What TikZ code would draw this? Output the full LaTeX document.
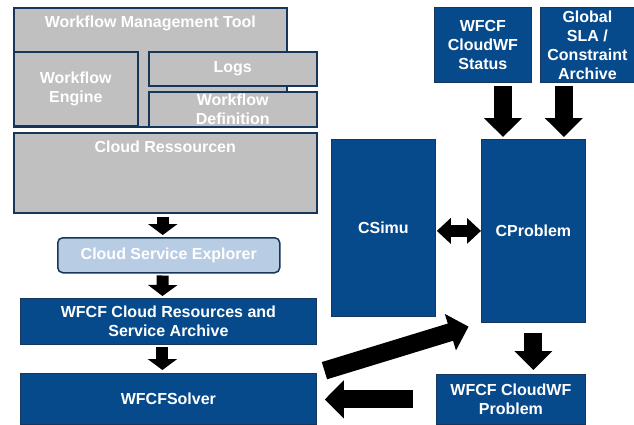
\documentclass[tikz,border=0pt]{standalone}
\usepackage{fontspec}
\setmainfont{Liberation Sans}
\usetikzlibrary{positioning, arrows.meta, calc}
\definecolor{wfblue}{RGB}{6,74,140}
\definecolor{wfnavy}{RGB}{22,54,92}
\definecolor{wfgrey}{RGB}{192,192,192}
\definecolor{wflight}{RGB}{184,204,228}
\tikzset{
    txt/.style = {font=\fontsize{16}{19}\selectfont\bfseries, text=white, align=center}, % white bold labels
    greybox/.style = {rectangle, draw=wfnavy, line width=1.5pt, fill=wfgrey, txt, anchor=north west, inner sep=0pt},
    bluebox/.style = {rectangle, draw=wfnavy, line width=0.8pt, fill=wfblue, txt, anchor=north west, inner sep=0pt},
    lightbox/.style = {bluebox, fill=wflight, line width=1.5pt, rounded corners=5pt},
    toplabel/.style = {txt, anchor=north, yshift=-5pt},
    smallarrow/.style = {draw=black, line width=12pt, -{Triangle[width=29pt,length=11pt]}}, % short arrows on the left
    bigarrow/.style = {draw=black, line width=18pt, -{Triangle[width=37pt,length=19pt]}},
    twoway/.style = {draw=black, line width=12pt, {Triangle[width=25pt,length=14pt]}-{Triangle[width=25pt,length=14pt]}}
}
\begin{document}
\begin{tikzpicture}[x=1pt, y=-1pt]
    \useasboundingbox (0,0) rectangle (634,424);

    % workflow management tool and its parts
    \node[greybox, minimum width=273pt, minimum height=119pt,
          label={[toplabel]north:Workflow Management Tool}] (wmt) at (13,7) {};
    \node[greybox, minimum width=124pt, minimum height=74pt] (engine) at (13,51) {Workflow\\Engine};
    \node[greybox, minimum width=168pt, minimum height=34pt] (logs) at (148,51) {Logs};
    \node[greybox, minimum width=168pt, minimum height=35pt] (wdef) at (148,91) {Workflow\\Definition};
    \node[greybox, minimum width=303pt, minimum height=80pt,
          label={[toplabel]north:Cloud Ressourcen}] (cloud) at (13,132) {};

    % left column
    \node[lightbox, minimum width=222pt, minimum height=35pt] (cse) at (57,237) {Cloud Service Explorer};
    \node[bluebox, minimum width=296pt, minimum height=46pt] (archive) at (20,298) {WFCF Cloud Resources and\\Service Archive};
    \node[bluebox, minimum width=296pt, minimum height=51pt] (solver) at (20,373) {WFCFSolver};

    % right part
    \node[bluebox, minimum width=97pt, minimum height=75pt] (status) at (434,7) {WFCF\\CloudWF\\Status};
    \node[bluebox, minimum width=94pt, minimum height=75pt] (sla) at (540,7) {Global\\SLA /\\Constraint\\Archive};
    \node[bluebox, minimum width=104pt, minimum height=177pt] (csimu) at (331,139) {CSimu};
    \node[bluebox, minimum width=104pt, minimum height=183pt] (cprob) at (481,139) {CProblem};
    \node[bluebox, minimum width=149pt, minimum height=50pt] (problem) at (436,374) {WFCF CloudWF\\Problem};

    % arrows
    \draw[smallarrow, shorten <=3pt, shorten >=2pt] ([xshift=-6pt]cse.north |- cloud.south) -- ([xshift=-6pt]cse.north);
    \draw[smallarrow, shorten <=2pt, shorten >=2pt] ([xshift=-6pt]cse.south) -- ([xshift=-6pt]archive.north);
    \draw[smallarrow, shorten <=2pt, shorten >=3pt] ([xshift=-6pt]archive.south) -- ([xshift=-6pt]solver.north);
    \draw[bigarrow, shorten <=3pt, shorten >=2pt] ([xshift=22pt]cprob.north west |- status.south) -- ([xshift=22pt]cprob.north west);
    \draw[bigarrow, shorten <=3pt, shorten >=2pt] ([xshift=-22pt]cprob.north east |- sla.south) -- ([xshift=-22pt]cprob.north east);
    \draw[twoway, shorten <=1pt, shorten >=0pt] (csimu.east |- cprob.center) -- (cprob.west);
    \draw[bigarrow, shorten <=10pt, shorten >=4pt] (cprob.south) -- (cprob.south |- problem.north);
    \draw[bigarrow, shorten <=8pt, shorten >=13pt] (solver.north east) -- (cprob.south west);
    \draw[bigarrow, shorten <=23pt, shorten >=8pt] (problem.west) -- (solver.east |- problem.west);
\end{tikzpicture}
\end{document}
